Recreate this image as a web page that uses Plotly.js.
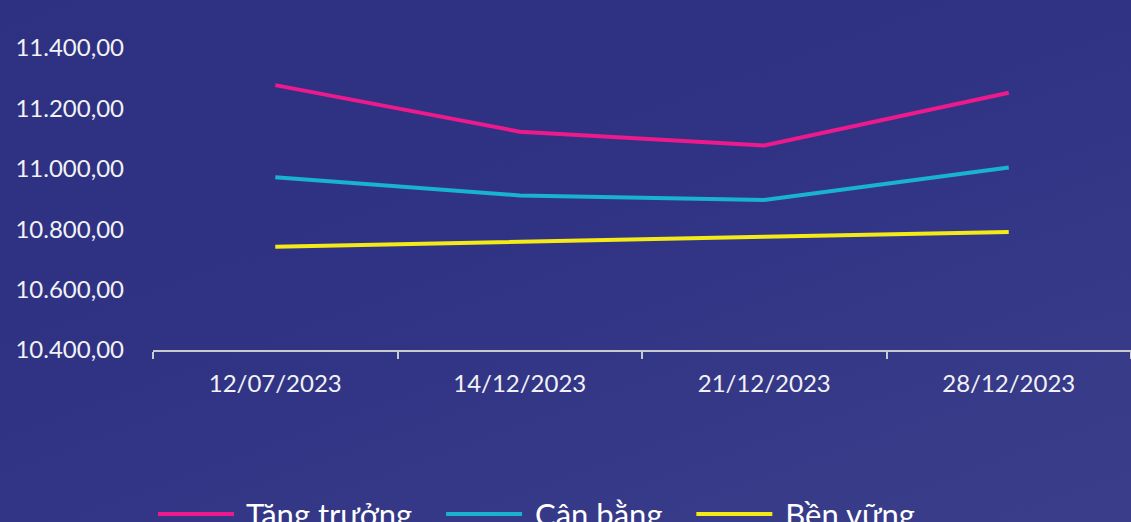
<!DOCTYPE html>
<html>
<head>
<meta charset="utf-8">
<script src="https://cdn.plot.ly/plotly-3.0.1.min.js"></script>
<style>
  html, body { margin: 0; padding: 0; width: 1131px; height: 522px; overflow: hidden; }
  body { background: linear-gradient(160deg, #2e3181 0%, #303384 45%, #3a3e8a 100%); }
  #chart { width: 1131px; height: 522px; }
</style>
</head>
<body>
<div id="chart"></div>
<script>
const dates = ["12/07/2023", "14/12/2023", "21/12/2023", "28/12/2023"];
const tangTruong = [11277, 11123, 11077, 11252];
const canBang = [10972, 10912, 10897, 11004];
const benVung = [10742, 10760, 10775, 10791];
const seriesNames = ["Tăng trưởng", "Cân bằng", "Bền vững"];
const yTicks = [10400, 10600, 10800, 11000, 11200, 11400];

const colors = ["#ec1a8c", "#19b3cf", "#f3ea18"];
const values = [tangTruong, canBang, benVung];
const lead = "\u00a0";
const pad = "\u00a0\u00a0\u00a0";

const traces = values.map((v, i) => ({
  type: "scatter",
  mode: "lines",
  x: dates,
  y: v,
  name: lead + seriesNames[i] + pad,
  line: { color: colors[i], width: 4 },
  hoverinfo: "skip"
}));

const layout = {
  width: 1131,
  height: 522,
  margin: { l: 153, r: 0, t: 48, b: 172, autoexpand: false },
  paper_bgcolor: "rgba(0,0,0,0)",
  plot_bgcolor: "rgba(0,0,0,0)",
  separators: ",.",
  font: { family: "Lato, 'Open Sans', sans-serif", color: "#f2f2f6", size: 24 },
  showlegend: true,
  legend: {
    orientation: "h",
    x: 0.0,
    xanchor: "left",
    y: -0.455,
    yanchor: "top",
    font: { size: 31, color: "#ffffff" },
    itemwidth: 76,
    bgcolor: "rgba(0,0,0,0)"
  },
  xaxis: {
    type: "category",
    range: [-0.5, 3.5],
    tickson: "boundaries",
    ticks: "outside",
    ticklen: 7,
    tickwidth: 2,
    tickcolor: "#c9c9d0",
    showline: true,
    linecolor: "#c9c9d0",
    linewidth: 2,
    showgrid: false,
    zeroline: false,
    ticklabelstandoff: 11,
    tickfont: { size: 24, color: "#f2f2f6" }
  },
  yaxis: {
    range: [10400, 11400],
    tickvals: yTicks,
    tickformat: ",.2f",
    showline: false,
    showgrid: false,
    zeroline: false,
    ticks: "",
    ticklabelstandoff: 28,
    tickfont: { size: 24, color: "#f2f2f6" }
  }
};

Plotly.newPlot("chart", traces, layout, { staticPlot: true, displayModeBar: false });
</script>
</body>
</html>
